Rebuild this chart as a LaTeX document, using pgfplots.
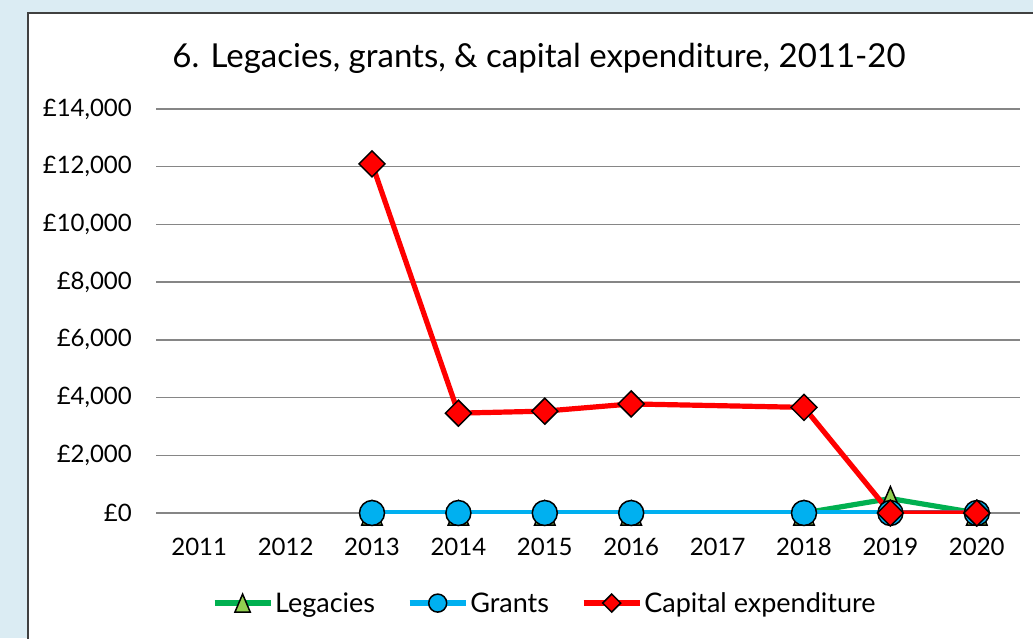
\documentclass[border=0pt]{standalone}
\usepackage{pgfplots}
\pgfplotsset{compat=1.18}
\usepackage{fontspec}
\setmainfont{Lato}
\definecolor{bgblue}{RGB}{219,236,243}
\definecolor{frame}{RGB}{64,64,64}
\definecolor{leggreen}{RGB}{0,176,80}
\definecolor{legfill}{RGB}{146,208,80}
\definecolor{grantblue}{RGB}{0,176,240}
\definecolor{capred}{RGB}{255,0,0}
\definecolor{gridgray}{RGB}{134,134,134}
\pgfdeclareplotmark{xltri}{%
  \pgfpathmoveto{\pgfqpoint{0pt}{\pgfplotmarksize}}%
  \pgfpathlineto{\pgfqpoint{0.85\pgfplotmarksize}{-\pgfplotmarksize}}%
  \pgfpathlineto{\pgfqpoint{-0.85\pgfplotmarksize}{-\pgfplotmarksize}}%
  \pgfpathclose\pgfusepathqfillstroke}
\pgfdeclareplotmark{xldia}{%
  \pgfpathmoveto{\pgfqpoint{0pt}{\pgfplotmarksize}}%
  \pgfpathlineto{\pgfqpoint{\pgfplotmarksize}{0pt}}%
  \pgfpathlineto{\pgfqpoint{0pt}{-\pgfplotmarksize}}%
  \pgfpathlineto{\pgfqpoint{-\pgfplotmarksize}{0pt}}%
  \pgfpathclose\pgfusepathqfillstroke}
\begin{document}
\begin{tikzpicture}[x=1pt,y=1pt]
\useasboundingbox (0,0) rectangle (1033,638);
\begin{scope}
\clip (0,0) rectangle (1033,638);
\fill[bgblue] (0,0) rectangle (1033,638);
\fill[white] (28,0) rectangle (1033,625);
\draw[line width=2pt, draw=frame] (28,-5) -- (28,625) -- (1040,625);
\end{scope}
\node[font=\fontsize{33}{40}\selectfont, anchor=base] at (539,570) {6. Legacies, grants, \& capital expenditure, 2011-20};
\begin{axis}[
  at={(156pt,125pt)}, anchor=south west,
  width=864pt, height=404pt, scale only axis,
  xmin=2010.5, xmax=2020.5, ymin=0, ymax=14000,
  scaled y ticks=false,
  axis line style={draw=none}, tick style={draw=none},
  ymajorgrids, grid style={gridgray, line width=1.3pt},
  xtick={2011,2012,2013,2014,2015,2016,2017,2018,2019,2020},
  xticklabels={2011,2012,2013,2014,2015,2016,2017,2018,2019,2020},
  ytick={0,2000,4000,6000,8000,10000,12000,14000},
  yticklabels={£0,{£2,000},{£4,000},{£6,000},{£8,000},{£10,000},{£12,000},{£14,000}},
  ticklabel style={font=\fontsize{24}{28}\selectfont},
  yticklabel style={anchor=east, inner sep=0pt, xshift=-24pt},
  xticklabel style={anchor=north, inner sep=0pt, yshift=-25pt},
  legend style={at={(0.45,-0.223)}, anchor=center, draw=none, fill=none,
    legend columns=3, font=\fontsize{27}{32}\selectfont,
    /tikz/every even column/.append style={column sep=30pt},
    legend cell align=left},
  legend image code/.code={\draw[#1, mark repeat=2, mark phase=2] plot coordinates {(0pt,0pt) (28pt,0pt) (56pt,0pt)};},
  legend image post style={mark size=9pt},
  every axis plot/.append style={line width=5.2pt},
]
\addplot[leggreen, line width=5.2pt, mark=xltri, mark size=12pt,
  mark options={fill=legfill, draw=black, line width=1.5pt, solid}]
  coordinates {(2013,0) (2014,0) (2015,0) (2016,0) (2018,0) (2019,500) (2020,0)};
\addlegendentry{Legacies}
\addplot[grantblue, line width=5.2pt, mark=*, mark size=12.5pt,
  mark options={fill=grantblue, draw=black, line width=1.5pt, solid}]
  coordinates {(2013,0) (2014,0) (2015,0) (2016,0) (2018,0) (2019,0) (2020,0)};
\addlegendentry{Grants}
\addplot[capred, line width=5.2pt, mark=xldia, mark size=13pt,
  mark options={fill=capred, draw=black, line width=1.5pt, solid}]
  coordinates {(2013,12100) (2014,3460) (2015,3530) (2016,3780) (2018,3660) (2019,0) (2020,0)};
\addlegendentry{Capital expenditure}
\end{axis}
\end{tikzpicture}
\end{document}
